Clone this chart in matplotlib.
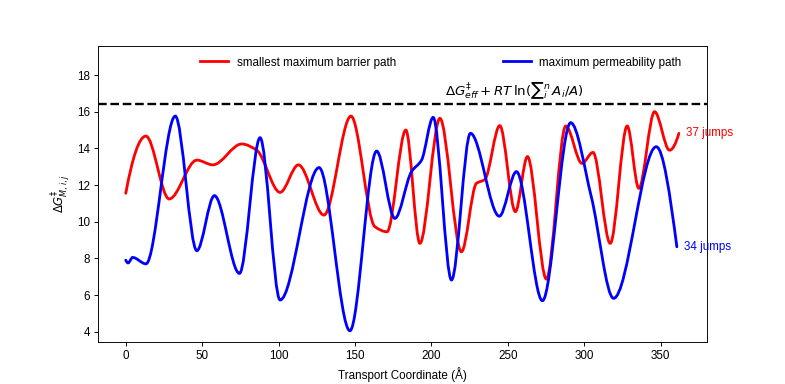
import numpy as np
import matplotlib
matplotlib.use("Agg")
from matplotlib import pyplot as plt
from matplotlib.path import Path
from matplotlib.patches import PathPatch

plt.rcParams["font.family"] = ["Liberation Sans", "DejaVu Sans"]

# barrier along each path (x in Angstrom)
red_x = [0, 13.2, 28.4, 46.5, 57, 75.9, 85.7, 101, 113, 129.7, 147.4, 163, 171,
         183.3, 192.5, 205.6, 219.7, 229.5, 235, 244.8, 255, 262.9, 275.3, 288,
         298.6, 305.8, 317.1, 328.2, 335.8, 346.1, 355.9, 362]
red_y = [11.55, 14.67, 11.24, 13.36, 13.1, 14.24, 13.9, 11.6, 13.1, 10.36, 15.76,
         9.73, 9.45, 15.0, 8.82, 15.64, 8.36, 12.09, 12.3, 15.24, 10.55, 13.55,
         6.87, 15.22, 13.18, 13.78, 8.82, 15.22, 11.82, 16.0, 13.9, 14.82]

blue_x = [0, 1.5, 4.5, 13.2, 32.4, 46.5, 58, 74.4, 87.9, 101, 126.5, 146.7, 164.2,
          176.1, 187, 193.6, 201.2, 213.2, 225.6, 244.5, 255.7, 272.7, 291.2,
          304.7, 319.3, 347.2, 360.7]
blue_y = [7.9, 7.75, 8.05, 7.7, 15.76, 8.42, 11.42, 7.18, 14.58, 5.73, 12.95, 4.05,
          13.85, 10.18, 12.73, 13.36, 15.69, 6.82, 14.82, 10.3, 12.73, 5.69, 15.4,
          11.36, 5.82, 14.09, 8.63]

threshold = 16.4
red_label = "37 jumps"
blue_label = "34 jumps"


def pchip_slopes(x, y):
    # Fritsch-Carlson slopes so the smooth path keeps the read extrema
    h = np.diff(x)
    d = np.diff(y) / h
    m = np.zeros(len(x))
    for k in range(1, len(x) - 1):
        if d[k - 1] * d[k] > 0:
            w1 = 2 * h[k] + h[k - 1]
            w2 = h[k] + 2 * h[k - 1]
            m[k] = (w1 + w2) / (w1 / d[k - 1] + w2 / d[k])
    for k0, k1, hh0, hh1 in [(0, 1, h[0], h[1]), (-1, -2, h[-1], h[-2])]:
        e = ((2 * hh0 + hh1) * d[k0] - hh0 * d[k1]) / (hh0 + hh1)
        if np.sign(e) != np.sign(d[k0]):
            e = 0
        elif np.sign(d[k0]) != np.sign(d[k1]) and abs(e) > 3 * abs(d[k0]):
            e = 3 * d[k0]
        m[k0] = e
    return m


def smooth_line(ax, x, y, **kw):
    x = np.asarray(x, float)
    y = np.asarray(y, float)
    m = pchip_slopes(x, y)
    verts = [(x[0], y[0])]
    codes = [Path.MOVETO]
    for i in range(len(x) - 1):
        h = (x[i + 1] - x[i]) / 3
        verts += [(x[i] + h, y[i] + m[i] * h),
                  (x[i + 1] - h, y[i + 1] - m[i + 1] * h),
                  (x[i + 1], y[i + 1])]
        codes += [Path.CURVE4] * 3
    ax.add_patch(PathPatch(Path(verts, codes), fill=False, capstyle="round", **kw))


# figure was drawn larger and shrunk, so use a lower dpi
fig, ax = plt.subplots(figsize=(7.85 / 0.84, 3.84 / 0.84), dpi=84)

smooth_line(ax, red_x, red_y, edgecolor="r", lw=2.4)
smooth_line(ax, blue_x, blue_y, edgecolor="b", lw=2.4)
ax.plot([], [], color="r", lw=2.4, label="smallest maximum barrier path")
ax.plot([], [], color="b", lw=2.4, label="maximum permeability path")

ax.axhline(threshold, color="k", ls="--", lw=2)
ax.text(209, threshold + 0.2, r"$\Delta G^{\ddagger}_{eff} + RT\,\ln({\sum}_i^n\, A_i/A)$",
        ha="left", va="bottom", fontsize=11.5)

ax.text(red_x[-1] + 5, red_y[-1], red_label, color="r", va="center", fontsize=10, clip_on=False)
ax.text(blue_x[-1] + 5, blue_y[-1], blue_label, color="b", va="center", fontsize=10, clip_on=False)

ax.set_xlim(-18.1, 380.1)
ax.set_ylim(3.45, 19.58)
ax.set_xticks(np.arange(0, 351, 50))
ax.set_yticks(np.arange(4, 19, 2))
ax.set_xlabel("Transport Coordinate (Å)")
ax.set_ylabel(r"$\Delta G^{\ddagger}_{M,i,j}$")

ax.legend(loc="upper left", bbox_to_anchor=(0.151, 1.0), ncol=2, frameon=False,
          handlelength=2.4, handletextpad=0.7, columnspacing=9.2)

fig.savefig("out.png", dpi=84)
